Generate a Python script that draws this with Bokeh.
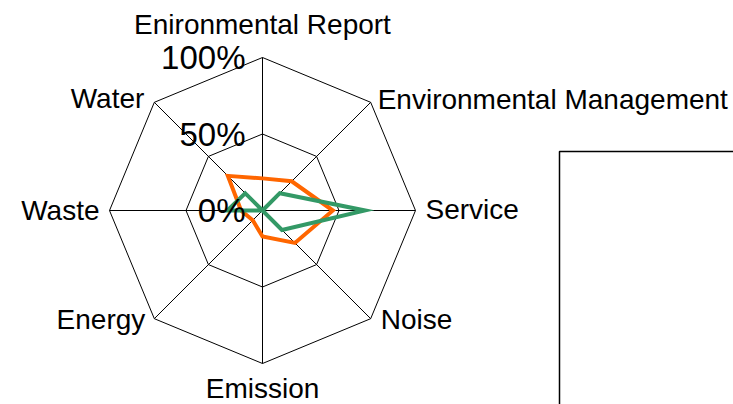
import numpy as np
from bokeh.plotting import figure
from bokeh.models import ColumnDataSource
from bokeh.core.properties import value
from bokeh.embed import file_html
from bokeh.resources import INLINE

# ---- data ----
categories = ["Enironmental Report", "Environmental Management", "Service", "Noise",
              "Emission", "Energy", "Waste", "Water"]
series_orange = [21, 27, 46, 30, 17, 9, 14, 32]
series_green = [0, 16, 67, 18, 0, 0, 23, 16]
ring_levels = [50, 100]
tick_values = [0, 50, 100]
tick_labels = ["0%", "50%", "100%"]

# ---- layout ----
W, H = 733, 404
cx_px, cy_px = 262, 210      # centre of the radar in figure pixels
scale = 1.53                 # px per percent
FONT = "Liberation Sans"

p = figure(width=W, height=H, output_backend="svg", toolbar_location=None,
           x_range=(-cx_px / scale, (W - cx_px) / scale),
           y_range=(-(H - cy_px) / scale, cy_px / scale),
           min_border=0, border_fill_color="white", background_fill_color="white")
p.axis.visible = False
p.grid.visible = False
p.outline_line_color = None

n = len(categories)
angles = np.pi / 2 - np.arange(n) * 2 * np.pi / n   # clockwise from top
ca, sa = np.cos(angles), np.sin(angles)

# rings
for lv in ring_levels:
    xs = list(lv * ca) + [lv * ca[0]]
    ys = list(lv * sa) + [lv * sa[0]]
    p.line(xs, ys, line_color="black", line_width=1)

# spokes
p.segment(x0=[0] * n, y0=[0] * n, x1=list(100 * ca), y1=list(100 * sa),
          line_color="black", line_width=1)

# series
for vals, col in ((series_orange, "#FF6600"), (series_green, "#339966")):
    v = np.array(vals, dtype=float)
    xs = list(v * ca) + [v[0] * ca[0]]
    ys = list(v * sa) + [v[0] * sa[0]]
    p.line(xs, ys, line_color=col, line_width=4, line_join="miter")

# tick labels
p.text(x=[-11.1] * len(tick_values), y=tick_values, text=tick_labels,
       text_font=value(FONT), text_font_size="33px", text_color="black",
       text_align="right", text_baseline="middle")

# category labels
offx = [0, 7, 10, 10, 0, -9, -10, -10]
offy = [-33, -3, -1, 1, 25, 1, 0, -4]
aligns = ["center", "left", "left", "left", "center", "right", "right", "right"]
src = ColumnDataSource(dict(x=list(100 * ca), y=list(100 * sa), text=categories,
                            xo=offx, yo=offy, al=aligns))
p.text(x="x", y="y", text="text", x_offset="xo", y_offset="yo", text_align="al",
       source=src, text_font=value(FONT), text_font_size="28px",
       text_color="black", text_baseline="alphabetic")

# empty legend frame (cut off at right/bottom)
lx = (559 - cx_px) / scale
ly = (cy_px - 151) / scale
p.quad(left=[lx], right=[lx + 400], bottom=[ly - 400], top=[ly],
       fill_color=None, line_color="black", line_width=1.5)

open("out.html", "w").write(file_html(p, INLINE))
